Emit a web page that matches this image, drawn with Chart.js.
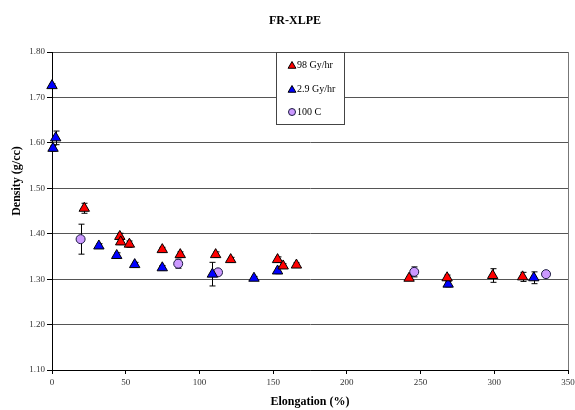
<!DOCTYPE html>
<html>
<head>
<meta charset="utf-8">
<script src="https://cdn.jsdelivr.net/npm/chart.js@4.4.1/dist/chart.umd.min.js"></script>
<style>
  html, body { margin: 0; padding: 0; background: #fff; }
  #wrap { width: 575px; height: 410px; }
</style>
</head>
<body>
<div id="wrap"><canvas id="chart" width="575" height="410"></canvas></div>
<script>
// values
const chartTitle = 'FR-XLPE';
const xTitle = 'Elongation (%)';
const yTitle = 'Density (g/cc)';

const red98X   = [21.9, 46.0, 46.6, 52.5, 74.8, 87.0, 111.0, 121.2, 153.0, 156.8, 165.8, 242.2, 268.0, 298.9, 319.2];
const red98Y   = [1.456, 1.394, 1.382, 1.377, 1.365, 1.354, 1.354, 1.343, 1.343, 1.329, 1.331, 1.302, 1.303, 1.308, 1.305];
const red98Err = [0.011, 0.007, 0.006, 0.007, 0.005, 0.006, 0.006, 0.005, 0.006, 0.005, 0.005, 0.004, 0.006, 0.015, 0.010];

const blue29X   = [0.0, 0.7, 2.5, 31.8, 43.9, 56.1, 74.8, 108.8, 137.0, 153.0, 268.7, 326.8];
const blue29Y   = [1.726, 1.588, 1.611, 1.373, 1.352, 1.332, 1.325, 1.311, 1.302, 1.318, 1.289, 1.303];
const blue29Err = [0.004, 0.006, 0.015, 0.005, 0.006, 0.005, 0.005, 0.026, 0.004, 0.006, 0.006, 0.013];

const c100X   = [19.4, 85.6, 112.6, 245.7, 335.1];
const c100Y   = [1.388, 1.334, 1.315, 1.316, 1.311];
const c100Err = [0.033, 0.010, 0.006, 0.011, 0.004];

const seriesNames = ['98 Gy/hr', '2.9 Gy/hr', '100 C'];

function toPoints(xs, ys, errs) {
  return xs.map((x, i) => ({ x: x, y: ys[i], err: errs[i] }));
}

const serif = '"Liberation Serif", "DejaVu Serif", serif';

// error bars, drawn under the markers
const errorBars = {
  id: 'errorBars',
  beforeDatasetsDraw(chart) {
    const ctx = chart.ctx;
    const xs = chart.scales.x, ys = chart.scales.y;
    ctx.save();
    ctx.strokeStyle = '#000';
    ctx.lineWidth = 1;
    chart.data.datasets.forEach(ds => {
      ds.data.forEach(p => {
        if (!p.err) return;
        const px = Math.round(xs.getPixelForValue(p.x)) + 0.5;
        const top = ys.getPixelForValue(p.y + p.err);
        const bot = ys.getPixelForValue(p.y - p.err);
        ctx.beginPath();
        ctx.moveTo(px, top); ctx.lineTo(px, bot);
        ctx.moveTo(px - 3, top); ctx.lineTo(px + 3, top);
        ctx.moveTo(px - 3, bot); ctx.lineTo(px + 3, bot);
        ctx.stroke();
      });
    });
    ctx.restore();
  }
};

// titles, right border and the boxed legend
const decorations = {
  id: 'decorations',
  afterDraw(chart) {
    const ctx = chart.ctx;
    const a = chart.chartArea;
    ctx.save();
    // right border of plot
    ctx.strokeStyle = '#777';
    ctx.lineWidth = 1;
    ctx.beginPath();
    ctx.moveTo(Math.round(a.right) + 0.5, a.top);
    ctx.lineTo(Math.round(a.right) + 0.5, a.bottom);
    ctx.stroke();

    ctx.fillStyle = '#000';
    ctx.textAlign = 'center';
    ctx.textBaseline = 'middle';
    ctx.font = 'bold 12px ' + serif;
    ctx.fillText(chartTitle, 295, 21);
    ctx.fillText(xTitle, (a.left + a.right) / 2, 402);
    ctx.save();
    ctx.translate(17, 181);
    ctx.rotate(-Math.PI / 2);
    ctx.fillText(yTitle, 0, 0);
    ctx.restore();

    // legend box
    const bx = 276.5, by = 52.5, bw = 68, bh = 72;
    ctx.fillStyle = '#fff';
    ctx.fillRect(bx, by, bw, bh);
    ctx.strokeStyle = '#444';
    ctx.strokeRect(bx, by, bw, bh);
    ctx.font = '10px ' + serif;
    ctx.textAlign = 'left';
    const rowY = [65, 89, 112];
    chart.data.datasets.forEach((ds, i) => {
      const style = ds.pointStyle;
      const r = style === 'triangle' ? 4.5 : 3.5;
      ctx.fillStyle = ds.backgroundColor;
      ctx.strokeStyle = ds.borderColor;
      ctx.lineWidth = 1;
      Chart.helpers.drawPoint(ctx, { pointStyle: style, radius: r, borderWidth: 1 }, 292, rowY[i] + (style === 'triangle' ? 1 : 0));
      ctx.fillStyle = '#000';
      ctx.fillText(seriesNames[i], 297, rowY[i]);
    });
    ctx.restore();
  }
};

const datasets = [
  {
    label: seriesNames[0],
    data: toPoints(red98X, red98Y, red98Err),
    pointStyle: 'triangle', pointRadius: 6, pointHoverRadius: 6,
    backgroundColor: '#ff0000', borderColor: '#000', pointBorderWidth: 1,
    clip: false
  },
  {
    label: seriesNames[1],
    data: toPoints(blue29X, blue29Y, blue29Err),
    pointStyle: 'triangle', pointRadius: 6, pointHoverRadius: 6,
    backgroundColor: '#0000ff', borderColor: '#000', pointBorderWidth: 1,
    clip: false
  },
  {
    label: seriesNames[2],
    data: toPoints(c100X, c100Y, c100Err),
    pointStyle: 'circle', pointRadius: 4.5, pointHoverRadius: 4.5,
    backgroundColor: '#cc99ff', borderColor: '#1a1a40', pointBorderWidth: 1,
    clip: false
  }
];

new Chart(document.getElementById('chart'), {
  type: 'scatter',
  data: { datasets: datasets },
  options: {
    responsive: false,
    animation: false,
    layout: { padding: { top: 52, right: 4, left: 0, bottom: 0 } },
    plugins: {
      legend: { display: false },
      tooltip: { enabled: false },
      title: { display: false }
    },
    scales: {
      x: {
        type: 'linear',
        min: 0, max: 350,
        ticks: { stepSize: 50, color: '#333', font: { family: serif, size: 9 }, padding: 3, maxRotation: 0 },
        grid: { drawOnChartArea: false, tickLength: 4, tickColor: '#000' },
        border: { color: '#000', width: 1 },
        afterFit(scale) { scale.height = 40; scale.paddingLeft = 0; scale.paddingRight = 0; }
      },
      y: {
        min: 1.1, max: 1.8,
        ticks: {
          stepSize: 0.1, color: '#333', font: { family: serif, size: 9 }, padding: 2,
          callback: v => v.toFixed(2)
        },
        grid: { color: '#555', tickLength: 5, tickColor: '#000' },
        border: { color: '#000', width: 1 },
        afterFit(scale) { scale.width = 52; scale.paddingTop = 0; scale.paddingBottom = 0; }
      }
    }
  },
  plugins: [errorBars, decorations]
});
</script>
</body>
</html>
